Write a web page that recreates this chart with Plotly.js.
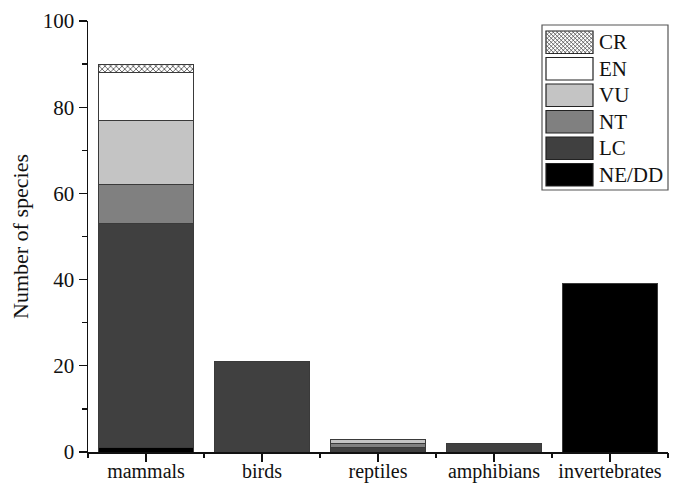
<!DOCTYPE html>
<html>
<head>
<meta charset="utf-8">
<script src="https://cdn.plot.ly/plotly-3.0.1.min.js"></script>
<style>html,body{margin:0;padding:0;background:#fff;}#chart{width:676px;height:487px;}</style>
</head>
<body>
<div id="chart"></div>
<script>
// ---- data ----
const categories = ["mammals", "birds", "reptiles", "amphibians", "invertebrates"];
const statusNames = ["NE/DD", "LC", "NT", "VU", "EN", "CR"];
const valNEDD = [1, 0, 0, 0, 39];
const valLC   = [52, 21, 1, 2, 0];
const valNT   = [9, 0, 1, 0, 0];
const valVU   = [15, 0, 1, 0, 0];
const valEN   = [11, 0, 0, 0, 0];
const valCR   = [2, 0, 0, 0, 0];
const yTicks = [0, 20, 40, 60, 80, 100];

// ---- styles ----
const series = [valNEDD, valLC, valNT, valVU, valEN, valCR];
const colors = ["#000000", "#404040", "#808080", "#c4c4c4", "#ffffff", "#ffffff"];
const FAM = "Liberation Serif, Times New Roman, serif";

const traces = series.map((vals, i) => {
  const t = {
    type: "bar",
    name: statusNames[i],
    x: categories,
    y: vals,
    width: 0.82,
    marker: {color: colors[i], line: {color: "#3a3a3a", width: 1}},
    showlegend: false,
    hoverinfo: "x+y+name"
  };
  if (statusNames[i] === "CR") {
    t.marker.pattern = {shape: "x", fgcolor: "#444", bgcolor: "#ffffff", size: 4, solidity: 0.35};
  }
  return t;
});

// plot area pixels
const L = 88, R = 668, T = 21, B = 452;
const px = v => (v - L) / (R - L);
const py = v => (B - v) / (B - T);

const shapes = [];
const annotations = [];
// legend box
shapes.push({type: "rect", xref: "paper", yref: "paper", x0: px(542), x1: px(668), y0: py(190), y1: py(25),
  line: {color: "#555", width: 1.2}, fillcolor: "#fff", layer: "above"});
const legendOrder = ["CR", "EN", "VU", "NT", "LC", "NE/DD"];
legendOrder.forEach((nm, k) => {
  const idx = statusNames.indexOf(nm);
  const top = 31 + k * 26.5, bot = top + 22.5;
  shapes.push({type: "rect", xref: "paper", yref: "paper", x0: px(546), x1: px(593), y0: py(bot), y1: py(top),
    line: {color: "#222", width: 1.2}, fillcolor: colors[idx], layer: "above"});
  if (nm === "CR") {
    let d = "";
    for (let s = -22; s <= 47; s += 4) {
      const xa = 546 + s, xb = 546 + s + 22.5;
      d += `M${px(Math.max(546, xa)).toFixed(5)},${py(top + Math.max(0, 546 - xa)).toFixed(5)}`;
      d += `L${px(Math.min(593, xb)).toFixed(5)},${py(top + 22.5 - Math.max(0, xb - 593)).toFixed(5)}`;
      d += `M${px(Math.max(546, xa)).toFixed(5)},${py(bot - Math.max(0, 546 - xa)).toFixed(5)}`;
      d += `L${px(Math.min(593, xb)).toFixed(5)},${py(bot - 22.5 + Math.max(0, xb - 593)).toFixed(5)}`;
    }
    shapes.push({type: "path", xref: "paper", yref: "paper", path: d, line: {color: "#555", width: 0.8}, layer: "above"});
  }
  annotations.push({xref: "paper", yref: "paper", x: px(597), y: py((top + bot) / 2), xanchor: "left", yanchor: "middle",
    text: nm, showarrow: false, font: {family: FAM, size: 21, color: "#111"}});
});

const font = {family: FAM, size: 21, color: "#111"};
const layout = {
  width: 676, height: 487,
  margin: {l: L, r: 676 - R, t: T, b: 487 - B, pad: 0},
  paper_bgcolor: "#fff", plot_bgcolor: "#fff",
  barmode: "stack",
  font: font,
  showlegend: false,
  xaxis: {
    type: "category", range: [-0.5, 4.5],
    showline: true, linecolor: "#111", linewidth: 1.5,
    ticks: "outside", ticklen: 8, tickwidth: 1.3, tickcolor: "#111",
    ticklabelstandoff: -8,
    showgrid: false, zeroline: false, tickfont: {family: FAM, size: 20, color: "#111"}
  },
  xaxis2: {
    overlaying: "x", anchor: "y", range: [-0.5, 4.5], type: "linear",
    tickvals: [-0.5, 0.5, 1.5, 2.5, 3.5, 4.5], showticklabels: false,
    ticks: "outside", ticklen: 5, tickwidth: 1.3, tickcolor: "#111",
    showgrid: false, zeroline: false, showline: false, side: "bottom"
  },
  yaxis: {
    range: [0, 100], tickvals: yTicks,
    showline: true, linecolor: "#111", linewidth: 1.5,
    ticks: "outside", ticklen: 8, tickwidth: 1.3, tickcolor: "#111",
    minor: {tickvals: [10, 30, 50, 70, 90], ticks: "outside", ticklen: 5, tickwidth: 1.3, tickcolor: "#111"},
    showgrid: false, zeroline: false, tickfont: font,
    title: {text: "Number of species", font: {family: FAM, size: 22, color: "#111"}, standoff: 8}
  },
  shapes: shapes,
  annotations: annotations
};

traces.push({type: "scatter", x: [0], y: [0], xaxis: "x2", yaxis: "y", mode: "markers",
  marker: {opacity: 0}, showlegend: false, hoverinfo: "skip"});

Plotly.newPlot("chart", traces, layout, {displayModeBar: false, staticPlot: true});
</script>
</body>
</html>
